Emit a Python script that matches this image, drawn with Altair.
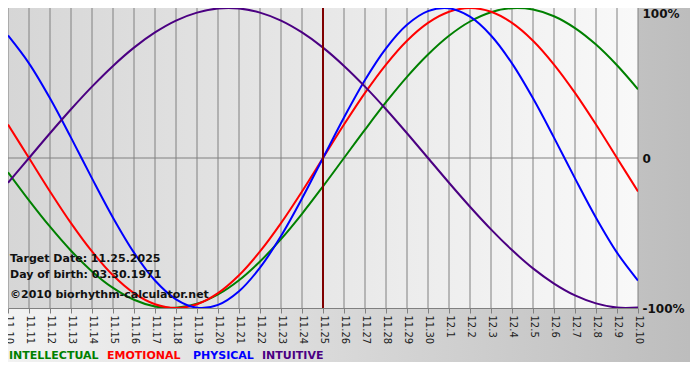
import altair as alt
import pandas as pd

dates = ["11.10", "11.11", "11.12", "11.13", "11.14", "11.15", "11.16", "11.17",
         "11.18", "11.19", "11.20", "11.21", "11.22", "11.23", "11.24", "11.25",
         "11.26", "11.27", "11.28", "11.29", "11.30", "12.1", "12.2", "12.3",
         "12.4", "12.5", "12.6", "12.7", "12.8", "12.9", "12.10"]

physical = [0.817, 0.631, 0.398, 0.136, -0.136, -0.398, -0.631, -0.817, -0.942, -0.998,
            -0.979, -0.888, -0.731, -0.520, -0.270, 0.0, 0.270, 0.520, 0.731, 0.888,
            0.979, 0.998, 0.942, 0.817, 0.631, 0.398, 0.136, -0.136, -0.398, -0.631, -0.817]
emotional = [0.223, 0.0, -0.223, -0.434, -0.623, -0.782, -0.901, -0.975, -1.0, -0.975,
             -0.901, -0.782, -0.623, -0.434, -0.223, 0.0, 0.223, 0.434, 0.623, 0.782,
             0.901, 0.975, 1.0, 0.975, 0.901, 0.782, 0.623, 0.434, 0.223, 0.0, -0.223]
intellectual = [-0.095, -0.282, -0.458, -0.618, -0.756, -0.866, -0.945, -0.990, -0.999, -0.972,
                -0.910, -0.815, -0.690, -0.541, -0.372, -0.189, 0.0, 0.189, 0.372, 0.541,
                0.690, 0.815, 0.910, 0.972, 0.999, 0.990, 0.945, 0.866, 0.756, 0.618, 0.458]
intuitive = [-0.165, 0.0, 0.165, 0.325, 0.476, 0.614, 0.736, 0.837, 0.916, 0.969,
             0.997, 0.997, 0.969, 0.916, 0.837, 0.736, 0.614, 0.476, 0.325, 0.165,
             0.0, -0.165, -0.325, -0.476, -0.614, -0.736, -0.837, -0.916, -0.969, -0.997, -0.997]

series_names = ["INTELLECTUAL", "EMOTIONAL", "PHYSICAL", "INTUITIVE"]
series_colors = ["#008000", "#ff0000", "#0000ff", "#4b0082"]
target_date = "11.25"
info_lines = ["Target Date: 11.25.2025", "Day of birth: 03.30.1971", "\u00a92010 biorhythm-calculator.net"]

W, H = 630, 300
PR, PB = 52, 54
FONT = "DejaVu Sans"

rows = []
for name, vals in zip(series_names, [intellectual, emotional, physical, intuitive]):
    for d, v in zip(dates, vals):
        rows.append({"date": d, "value": v, "series": name})
df = pd.DataFrame(rows)

xscale = alt.Scale(type="point", domain=dates, padding=0)
yscale = alt.Scale(domain=[-1, 1], nice=False, zero=False)
dummy = pd.DataFrame({"a": [0]})

outer_bg = alt.Chart(dummy).mark_rect(
    fill=alt.LinearGradient(gradient="linear", x1=0, x2=1, y1=0, y2=0,
                            stops=[alt.GradientStop(offset=0, color="#f2f2f2"),
                                   alt.GradientStop(offset=1, color="#bdbdbd")])
).encode(x=alt.value(0), x2=alt.value(W + PR), y=alt.value(0), y2=alt.value(H + PB))

plot_bg = alt.Chart(dummy).mark_rect(
    fill=alt.LinearGradient(gradient="linear", x1=0, x2=1, y1=0, y2=0,
                            stops=[alt.GradientStop(offset=0, color="#d6d6d6"),
                                   alt.GradientStop(offset=1, color="#f9f9f9")])
).encode(x=alt.value(0), x2=alt.value(W), y=alt.value(0), y2=alt.value(H))

grid = alt.Chart(pd.DataFrame({"date": dates})).mark_rule(color="#808080", strokeWidth=1).encode(
    x=alt.X("date:O", scale=xscale, sort=dates))

zero_rule = alt.Chart(pd.DataFrame({"v": [0]})).mark_rule(color="#808080", strokeWidth=1).encode(
    y=alt.Y("v:Q", scale=yscale))

lines = alt.Chart(df).mark_line(strokeWidth=2, interpolate="catmull-rom", clip=True).encode(
    x=alt.X("date:O", scale=xscale, sort=dates,
            axis=alt.Axis(title=None, orient="bottom", labelAngle=90, labelAlign="left",
                          labelBaseline="middle", labelFont=FONT, labelFontSize=10,
                          labelColor="#222222", tickColor="#808080", tickSize=5,
                          domainColor="#808080", grid=False, labelPadding=2, zindex=1)),
    y=alt.Y("value:Q", scale=yscale,
            axis=alt.Axis(title=None, orient="right", values=[-1, 0, 1], grid=False,
                          ticks=False, domain=False, labelFont=FONT, labelFontSize=12,
                          labelFontWeight="bold", labelColor="#111111", labelPadding=4, zindex=1,
                          labelExpr="datum.value == 1 ? '100%' : (datum.value == 0 ? '0' : '-100%')",
                          labelBaseline=alt.condition("datum.value == 1", alt.value("top"), alt.value("middle")))),
    color=alt.Color("series:N", scale=alt.Scale(domain=series_names, range=series_colors), legend=None),
)

target_rule = alt.Chart(pd.DataFrame({"date": [target_date]})).mark_rule(color="#800000", strokeWidth=2).encode(
    x=alt.X("date:O", scale=xscale, sort=dates))

info_layers = []
for txt, yy in zip(info_lines, [251, 267, 287]):
    info_layers.append(alt.Chart(dummy).mark_text(
        text=txt, align="left", baseline="middle", font=FONT, fontSize=11,
        fontWeight="bold", color="#111111").encode(x=alt.value(2), y=alt.value(yy)))

legend_layers = []
for name, col, xx in zip(series_names, series_colors, [1, 99, 185, 254]):
    legend_layers.append(alt.Chart(dummy).mark_text(
        text=name, align="left", baseline="middle", font=FONT, fontSize=11,
        fontWeight="bold", color=col).encode(x=alt.value(xx), y=alt.value(H + 48)))

chart = alt.layer(outer_bg, plot_bg, grid, zero_rule, lines, target_rule, *info_layers, *legend_layers).properties(
    width=W, height=H,
    padding={"left": 0, "top": 0, "right": PR, "bottom": PB},
    autosize=alt.AutoSizeParams(type="none"),
).configure_view(stroke=None)

chart.save("out.html", embed_options={"renderer": "svg", "actions": False})
